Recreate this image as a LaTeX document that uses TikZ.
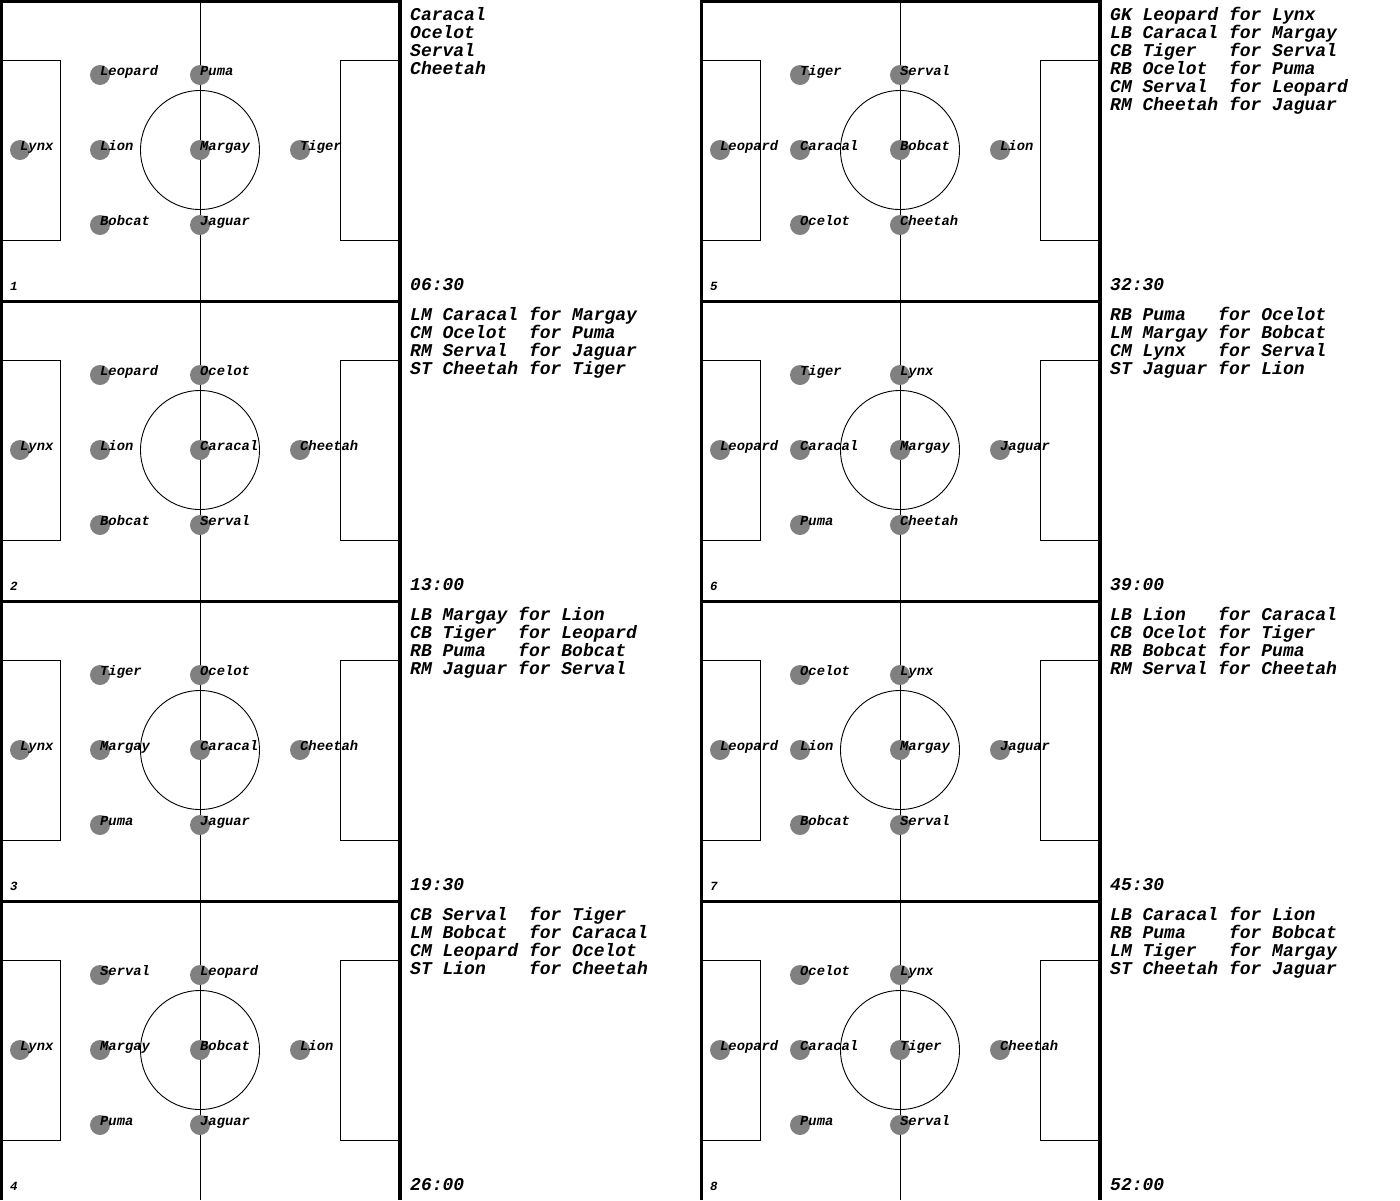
\documentclass[tikz,border=0pt]{standalone}
\usepackage{fontspec}
\setmonofont{Liberation Mono}
\usepackage{tikz}
\definecolor{dotgrey}{HTML}{808080}
\tikzset{
  border/.style ={line width=3.4pt},
  pline/.style  ={line width=0.9pt},
  player/.style ={circle, fill=dotgrey, draw=none, inner sep=0pt, minimum size=20pt},
  who/.style    ={anchor=base west, inner sep=0pt,
                  font=\ttfamily\bfseries\itshape\fontsize{13.8}{14}\selectfont},
  subs/.style   ={anchor=base west, inner sep=0pt,
                  font=\ttfamily\bfseries\itshape\fontsize{18}{18}\selectfont},
  num/.style    ={anchor=base west, inner sep=0pt,
                  font=\ttfamily\bfseries\itshape\fontsize{12.5}{12.5}\selectfont},
}
% origin x, origin y, panel no., keeper, backs, mids, striker, changes, clock
\newcommand{\lineup}[9]{%
  \begin{scope}[shift={(#1,#2)}]
    \draw[border] (1.7,300) -- (1.7,1.7) -- (400,1.7) -- (400,300);
    \draw[pline] (200,0) -- (200,300);
    \draw[pline] (200,150) circle[radius=59.5pt];
    \draw[pline] (0,60) -| (60,240) -- (0,240);
    \draw[pline] (400,60) -| (340,240) -- (400,240);
    \node[player] (k#3) at (20,150) {};
    \node[who] (kl#3) at (k#3.center) {#4};
    \foreach \nm [count=\nr] in {#5}{
      \node[player] (b#3\nr) at (100,75*\nr) {};
      \node[who] (bl#3\nr) at (b#3\nr.center) {\nm};
    }
    \foreach \nm [count=\nr] in {#6}{
      \node[player] (m#3\nr) at (200,75*\nr) {};
      \node[who] (ml#3\nr) at (m#3\nr.center) {\nm};
    }
    \node[player] (f#3) at (300,150) {};
    \node[who] (fl#3) at (f#3.center) {#7};
    \foreach \chg [count=\nr] in {#8}
      \node[subs] (c#3\nr) at (410,2+18*\nr) {\chg};
    \node[subs] (t#3) at (410,290) {#9};
    \node[num] (n#3) at (10,290) {#3};
  \end{scope}}

\begin{document}
\begin{tikzpicture}[x=1pt,y=-1pt]
  \useasboundingbox (0,0) rectangle (1400,1200);
  \lineup{0}{0}{1}{Lynx}{Leopard,Lion,Bobcat}{Puma,Margay,Jaguar}{Tiger}
    {Caracal,Ocelot,Serval,Cheetah}{06:30}
  \lineup{0}{300}{2}{Lynx}{Leopard,Lion,Bobcat}{Ocelot,Caracal,Serval}{Cheetah}
    {LM Caracal for Margay,CM Ocelot~ for Puma,RM Serval~ for Jaguar,ST Cheetah for Tiger}{13:00}
  \lineup{0}{600}{3}{Lynx}{Tiger,Margay,Puma}{Ocelot,Caracal,Jaguar}{Cheetah}
    {LB Margay for Lion,CB Tiger~ for Leopard,RB Puma~~ for Bobcat,RM Jaguar for Serval}{19:30}
  \lineup{0}{900}{4}{Lynx}{Serval,Margay,Puma}{Leopard,Bobcat,Jaguar}{Lion}
    {CB Serval~ for Tiger,LM Bobcat~ for Caracal,CM Leopard for Ocelot,ST Lion~~~ for Cheetah}{26:00}
  \lineup{700}{0}{5}{Leopard}{Tiger,Caracal,Ocelot}{Serval,Bobcat,Cheetah}{Lion}
    {GK Leopard for Lynx,LB Caracal for Margay,CB Tiger~~ for Serval,RB Ocelot~ for Puma,
     CM Serval~ for Leopard,RM Cheetah for Jaguar}{32:30}
  \lineup{700}{300}{6}{Leopard}{Tiger,Caracal,Puma}{Lynx,Margay,Cheetah}{Jaguar}
    {RB Puma~~ for Ocelot,LM Margay for Bobcat,CM Lynx~~ for Serval,ST Jaguar for Lion}{39:00}
  \lineup{700}{600}{7}{Leopard}{Ocelot,Lion,Bobcat}{Lynx,Margay,Serval}{Jaguar}
    {LB Lion~~ for Caracal,CB Ocelot for Tiger,RB Bobcat for Puma,RM Serval for Cheetah}{45:30}
  \lineup{700}{900}{8}{Leopard}{Ocelot,Caracal,Puma}{Lynx,Tiger,Serval}{Cheetah}
    {LB Caracal for Lion,RB Puma~~~ for Bobcat,LM Tiger~~ for Margay,ST Cheetah for Jaguar}{52:00}
\end{tikzpicture}
\end{document}
